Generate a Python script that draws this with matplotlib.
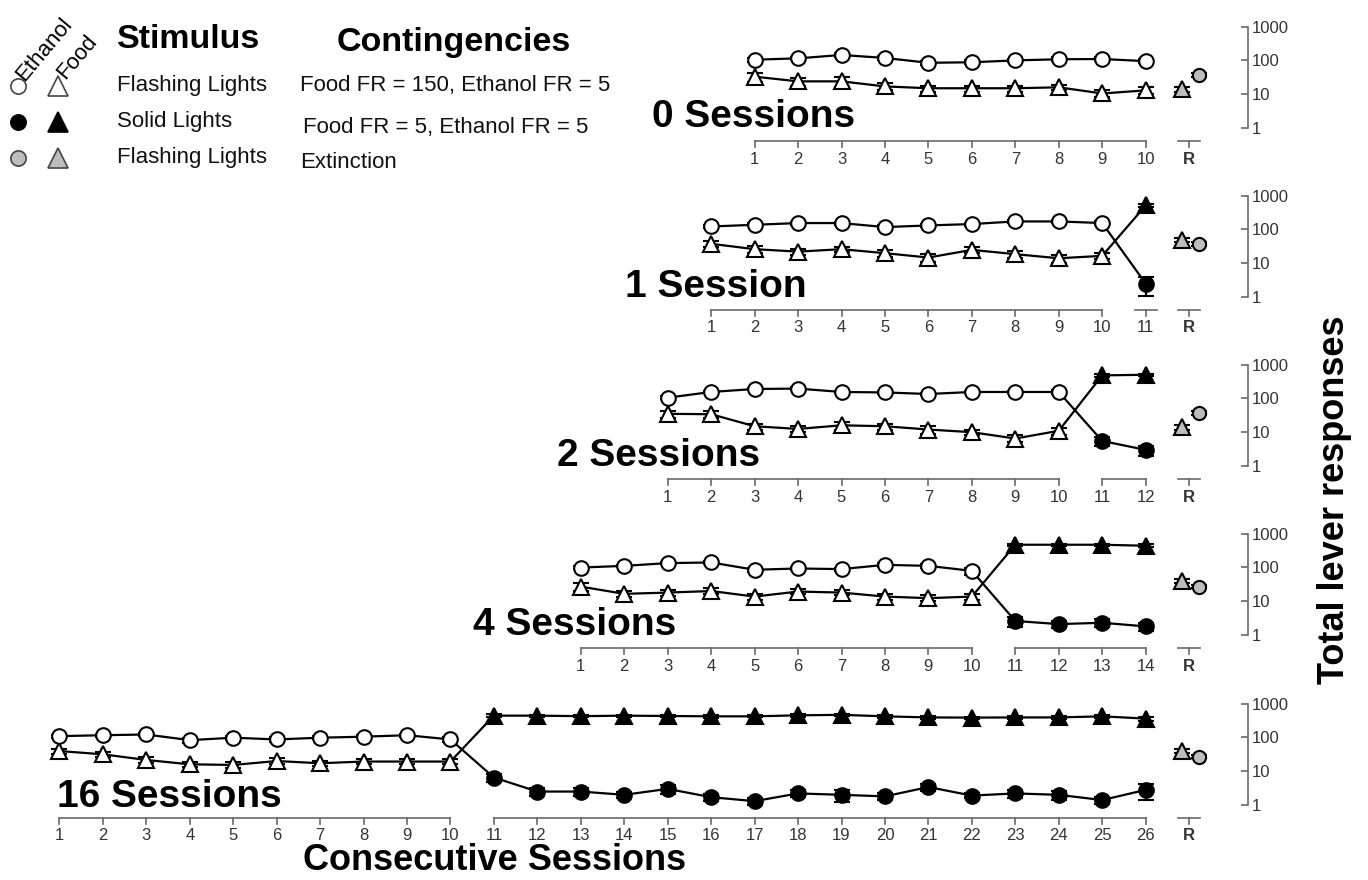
import numpy as np
import matplotlib
matplotlib.use("Agg")
import matplotlib.pyplot as plt

plt.rcParams['font.family'] = ['Liberation Sans', 'DejaVu Sans']

# ---- data ----
titles = ['0 Sessions', '1 Session', '2 Sessions', '4 Sessions', '16 Sessions']

# sessions 1-10: flashing lights, FR150 food / FR5 ethanol (open symbols)
eth_a = [
    [105, 115, 145, 118, 85, 88, 100, 108, 110, 95],
    [122, 137, 154, 154, 117, 131, 144, 172, 172, 154],
    [105, 155, 190, 195, 155, 150, 135, 155, 155, 155],
    [99, 111, 134, 140, 85, 93, 89, 119, 111, 79],
    [109, 116, 122, 83, 98, 87, 98, 105, 116, 87],
]
eth_a_err = [
    [15, 14, 16, 14, 12, 12, 13, 14, 16, 13],
    [14, 15, 17, 16, 14, 15, 15, 18, 18, 20],
    [12, 15, 16, 16, 15, 14, 13, 15, 14, 20],
    [10, 10, 12, 12, 12, 10, 10, 15, 14, 18],
    [12, 12, 14, 15, 12, 13, 10, 12, 14, 14],
]
food_a = [
    [33, 24, 24, 17, 15, 15, 15, 16, 10.5, 13],
    [37.5, 26, 22, 26, 19.8, 14.7, 24.8, 18.5, 14, 16.5],
    [35, 34, 15, 12.5, 16, 15, 12, 10, 6.5, 11],
    [27, 16.5, 18, 20, 13.7, 19.3, 18, 13.7, 12.3, 13.7],
    [39.5, 31.6, 21.5, 16, 15.3, 20, 17.2, 19.3, 19.3, 19.3],
]
food_a_err = [
    [10, 6, 8, 4, 3, 3, 3, 3, 2.5, 3],
    [8, 6, 5, 5, 5, 4, 5, 4, 4, 3],
    [8, 7, 3, 2.5, 4, 3, 3, 2, 1.5, 2.5],
    [7, 3, 4, 4, 3, 3, 3, 2.5, 2.5, 3],
    [7, 5, 4, 3, 3, 4, 3, 3, 3, 3],
]

# sessions 11+: solid lights, FR5 food / FR5 ethanol (filled symbols)
eth_b = [
    [],
    [2.5],
    [5.5, 3.0],
    [2.6, 2.1, 2.3, 1.8],
    [6.5, 2.5, 2.5, 2.0, 3.0, 1.7, 1.3, 2.2, 2.0, 1.8, 3.4, 1.9, 2.2, 2.0, 1.4, 2.8],
]
eth_b_err = [
    [],
    [1.4],
    [1.5, 1.0],
    [0.9, 0.5, 0.6, 0.5],
    [1.8, 0.6, 0.7, 0.4, 0.9, 0.4, 0.3, 0.5, 0.8, 0.4, 0.8, 0.3, 0.6, 0.6, 0.3, 1.4],
]
food_b = [
    [],
    [510],
    [480, 500],
    [468, 468, 468, 437],
    [440, 440, 425, 440, 430, 420, 420, 450, 465, 420, 390, 385, 390, 390, 420, 360],
]
food_b_err = [
    [],
    [60],
    [50, 40],
    [40, 35, 35, 45],
    [40, 35, 30, 35, 30, 35, 30, 40, 40, 35, 35, 30, 30, 30, 35, 45],
]

# R: extinction test (gray symbols)
food_r = [14, 49, 14, 40, 40]
food_r_err = [2, 6, 2.5, 6, 6]
eth_r = [37, 37.5, 38, 27, 27]
eth_r_err = [5, 5, 5, 3, 3]

y_ticks = [1, 10, 100, 1000]

# ---- layout ----
W, H = 1368, 880
slot1_px, slot_w = 59.4, 43.45          # x pixel of slot 1, pixels per slot
dec_px = 33.8                            # pixels per decade
y1_px = [128, 297, 466, 635, 805]        # pixel row of value 1 in each panel
title_px = [(652, 117), (625, 287), (557, 456), (473, 625), (57, 797)]
lo, hi = -0.7, 3.3                       # log10 limits of each panel
r_slot = 27
yaxis_slot = 1 + (1248 - slot1_px) / slot_w

GRAY = '#bdbdbd'
AX_COL = '#6a6a6a'
LBL_COL = '#333333'


def frac(px_below_one):
    return (-lo - px_below_one / dec_px) / (hi - lo)


fig = plt.figure(figsize=(W / 100, H / 100), dpi=100)
xlim = (1 - slot1_px / slot_w, 1 + (W - slot1_px) / slot_w)

ms_c, ms_t = 10.5, 12
mew = 1.5
ebkw = dict(ecolor='black', elinewidth=1.6, capsize=6, capthick=1.6, linestyle='none')

for i in range(5):
    y1 = y1_px[i]
    bottom = 1 - (y1 - lo * dec_px) / H
    height = (hi - lo) * dec_px / H
    ax = fig.add_axes([0, bottom, 1, height])
    ax.set_xlim(*xlim)
    ax.set_yscale('log')
    ax.set_ylim(10 ** lo, 10 ** hi)
    ax.patch.set_alpha(0)
    for s in ['top', 'left', 'bottom']:
        ax.spines[s].set_visible(False)
    ax.set_xticks([])

    # right log axis
    ax.spines['right'].set_position(('data', yaxis_slot))
    ax.spines['right'].set_bounds(1, 1000)
    ax.spines['right'].set_color(AX_COL)
    ax.spines['right'].set_linewidth(1.2)
    ax.yaxis.tick_right()
    ax.set_yticks(y_ticks)
    ax.set_yticklabels([str(t) for t in y_ticks])
    ax.yaxis.set_minor_locator(matplotlib.ticker.NullLocator())
    ax.tick_params(axis='y', direction='in', length=5, width=1.2, color=AX_COL,
                   labelsize=12, labelcolor=LBL_COL, pad=3)

    na, nb = len(eth_a[i]), len(eth_b[i])
    n = na + nb
    offset = 26 - n
    sess = np.arange(1, n + 1)
    x = sess + offset

    eth = eth_a[i] + eth_b[i]
    food = food_a[i] + food_b[i]
    ax.plot(x, eth, color='black', lw=1.6, zorder=2)
    ax.plot(x, food, color='black', lw=1.6, zorder=2)

    xa, xb = x[:na], x[na:]
    ax.errorbar(xa, food_a[i], yerr=food_a_err[i], marker='^', ms=ms_t, mfc='white',
                mec='black', mew=mew, zorder=3, **ebkw)
    ax.errorbar(xa, eth_a[i], yerr=eth_a_err[i], marker='o', ms=ms_c, mfc='white',
                mec='black', mew=mew, zorder=3, **ebkw)
    if nb:
        ax.errorbar(xb, food_b[i], yerr=food_b_err[i], marker='^', ms=ms_t, mfc='black',
                    mec='black', mew=mew, zorder=3, **ebkw)
        ax.errorbar(xb, eth_b[i], yerr=eth_b_err[i], marker='o', ms=ms_c, mfc='black',
                    mec='black', mew=mew, zorder=3, **ebkw)
    ax.errorbar([r_slot - 0.17], [food_r[i]], yerr=[food_r_err[i]], marker='^', ms=ms_t,
                mfc=GRAY, mec='black', mew=mew, zorder=3, **ebkw)
    ax.errorbar([r_slot + 0.23], [eth_r[i]], yerr=[eth_r_err[i]], marker='o', ms=ms_c - 1,
                mfc=GRAY, mec='black', mew=mew, zorder=4, **ebkw)

    # segmented session axis
    tr = ax.get_xaxis_transform()
    ya, yt, yl = frac(13), frac(19), frac(31)
    segs = [(xa[0], xa[-1])]
    if nb:
        segs.append((xb[0], xb[-1]))
    segs.append((r_slot, r_slot))
    for a, b in segs:
        if a == b:
            a, b = a - 0.25, b + 0.25
        ax.plot([a, b], [ya, ya], color=AX_COL, lw=1.2, transform=tr, clip_on=False)
    for xi, si in zip(x, sess):
        ax.plot([xi, xi], [ya, yt], color=AX_COL, lw=1.2, transform=tr, clip_on=False)
        ax.text(xi, yl, str(si), transform=tr, ha='center', va='center',
                fontsize=12, color=LBL_COL)
    ax.plot([r_slot, r_slot], [ya, yt], color=AX_COL, lw=1.2, transform=tr, clip_on=False)
    ax.text(r_slot, yl, 'R', transform=tr, ha='center', va='center',
            fontsize=12, fontweight='bold', color=LBL_COL)

# ---- overlay for titles, legend and axis labels (pixel coordinates) ----
lax = fig.add_axes([0, 0, 1, 1])
lax.set_xlim(0, W)
lax.set_ylim(H, 0)
lax.axis('off')
lax.patch.set_alpha(0)

for t, (tx, ty) in zip(titles, title_px):
    lax.text(tx, ty, t, ha='left', va='center', fontsize=28, fontweight='bold')

lax.text(495, 860, 'Consecutive Sessions', ha='center', va='center',
         fontsize=26, fontweight='bold')
lax.text(1335, 500, 'Total lever responses', ha='center', va='center',
         rotation=90, fontsize=26, fontweight='bold')

# legend block
rows_y = [86, 122, 158]
fills = ['white', 'black', GRAY]
for ry, fc in zip(rows_y, fills):
    ec = 'black' if fc == 'black' else '#444444'
    lax.plot([18], [ry], marker='o', ms=11, mfc=fc, mec=ec, mew=1.2)
    lax.plot([58], [ry], marker='^', ms=14, mfc=fc, mec=ec, mew=1.2)
lax.text(44, 49, 'Ethanol', rotation=50, ha='center', va='center', fontsize=16)
lax.text(77, 57, 'Food', rotation=50, ha='center', va='center', fontsize=16)

lax.text(117, 40, 'Stimulus', ha='left', va='center', fontsize=24.5, fontweight='bold')
lax.text(337, 43, 'Contingencies', ha='left', va='center', fontsize=24.5, fontweight='bold')
stim = ['Flashing Lights', 'Solid Lights', 'Flashing Lights']
cont = ['Food FR = 150, Ethanol FR = 5', 'Food FR = 5, Ethanol FR = 5', 'Extinction']
cont_y = [86, 127, 162]
cont_x = [300, 303, 300]
for s, ry in zip(stim, rows_y):
    lax.text(117, ry, s, ha='left', va='center', fontsize=16, color='#111111')
for c, cx, cy in zip(cont, cont_x, cont_y):
    lax.text(cx, cy, c, ha='left', va='center', fontsize=16, color='#111111')

fig.savefig('out.png', dpi=100)
